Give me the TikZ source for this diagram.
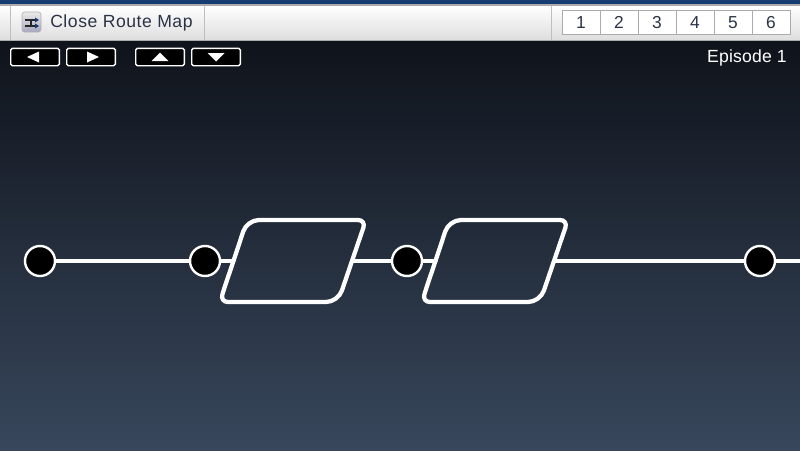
\documentclass[tikz,border=0pt]{standalone}
\usepackage{fontspec}
\usepackage{xcolor}
\setmainfont{Liberation Sans}
\usetikzlibrary{positioning}
\definecolor{skytop}{HTML}{0F131B}
\definecolor{skybottom}{HTML}{38475C}
\definecolor{barline}{HTML}{A9ABAD}
\definecolor{bartext}{HTML}{2A3446}
\definecolor{ribbon}{HTML}{163C74}
\tikzset{
    station/.style={circle, draw=white, line width=1.8pt, fill=black, inner sep=0pt, minimum size=22.5pt},
    routeline/.style={white, line width=2.6pt},
    section/.style={white, line width=3.2pt},
    arrowbtn/.style={draw=white, line width=1pt, fill=black, rounded corners=1.2pt, inner sep=0pt, minimum width=36.5pt, minimum height=13pt},
    numcell/.style={draw=barline, line width=0.7pt, fill=white, inner sep=0pt, minimum width=28.5pt, minimum height=18pt, text height=9.2pt, text depth=0pt, text=bartext, font=\fontsize{13}{13}\selectfont},
    barlabel/.style={inner sep=0pt, font=\fontsize{13.2}{15}\selectfont\addfontfeature{LetterSpace=3}},
    episodelabel/.style={inner sep=0pt, font=\fontsize{13.2}{15}\selectfont\addfontfeature{LetterSpace=1}},
}
\begin{document}
\begin{tikzpicture}[x=0.75pt, y=-0.75pt]
    \useasboundingbox (0,0) rectangle (800,450);
    % background
    \shade[top color=skytop, bottom color=skybottom] (0,40) rectangle (800,450);
    \fill[ribbon] (0,0) rectangle (800,4);
    \fill[barline] (0,4) rectangle (800,7);
    \shade[top color=white, bottom color=black!13] (0,6) rectangle (800,40);
    \draw[barline, line width=0.8] (0,40.5) -- (800,40.5);
    \draw[black!25, line width=0.6] (10,6) -- (10,40);
    \draw[black!25, line width=0.6] (204,6) -- (204,40);
    \draw[black!25, line width=0.6] (551,6) -- (551,40);

    % close button
    \shade[top color=black!8, bottom color=blue!30!black!35, rounded corners=2] (22,12) rectangle (41,32);
    \draw[black!30, rounded corners=2, line width=0.5] (22,12) rectangle (41,32);
    \draw[black!85, line width=1] (25,20) -- (38,20);
    \draw[black!85, line width=1] (25,26) -- (38,26);
    \draw[black!85, line width=1] (31,20) -- (31,26);
    \fill[ribbon] (39,20) -- (35,17.5) -- (35,22.5);
    \fill[ribbon] (39,26) -- (35,23.5) -- (35,28.5);
    \node[barlabel, anchor=west, text=bartext] (closelabel) at (50,23) {Close Route Map};

    % numbers
    \foreach \i in {1,...,6}
        \node[numcell] (num\i) at (543+38*\i,22) {\i};
    \node[episodelabel, anchor=east, text=white] (episode) at (787,57.5) {Episode 1};

    % arrow buttons
    \node[arrowbtn] (btnleft) at (35,57) {};
    \node[arrowbtn] (btnright) at (91,57) {};
    \node[arrowbtn] (btnup) at (160,57) {};
    \node[arrowbtn] (btndown) at (216,57) {};
    \fill[white, shift={(btnleft)}] (-8,0) -- (4,-5.5) -- (4,5.5) -- cycle;
    \fill[white, shift={(btnright)}] (8,0) -- (-4,-5.5) -- (-4,5.5) -- cycle;
    \fill[white, shift={(btnup)}] (0,-4.5) -- (8.5,4) -- (-8.5,4) -- cycle;
    \fill[white, shift={(btndown)}] (0,4.5) -- (8.5,-4) -- (-8.5,-4) -- cycle;

    % route map
    \node[station] (a) at (40,261) {};
    \node[station] (b) at (205,261) {};
    \node[station] (c) at (407,261) {};
    \node[station] (d) at (760,261) {};
    \coordinate (s1in) at (233.5,261);
    \coordinate (s1out) at (352,261);
    \coordinate (s2in) at (435.5,261);
    \coordinate (s2out) at (554,261);
    \coordinate (rail) at (800,261);

    \draw[routeline] (a) -- (b);
    \draw[routeline] (b) -- (s1in);
    \draw[routeline] (s1out) -- (c);
    \draw[routeline] (c) -- (s2in);
    \draw[routeline] (s2out) -- (d);
    \draw[routeline] (d) -- (rail);

    \foreach \dx in {0,202}
        \draw[section, shift={(\dx,0)}]
            (233.5,261) -- (225,286) [rounded corners=6pt] -- (220,302) [rounded corners=9pt]
            -- (338,302) -- (352,261) [rounded corners=6pt] -- (366,220) [rounded corners=9pt]
            -- (247,220) -- (233.5,261);
\end{tikzpicture}
\end{document}
